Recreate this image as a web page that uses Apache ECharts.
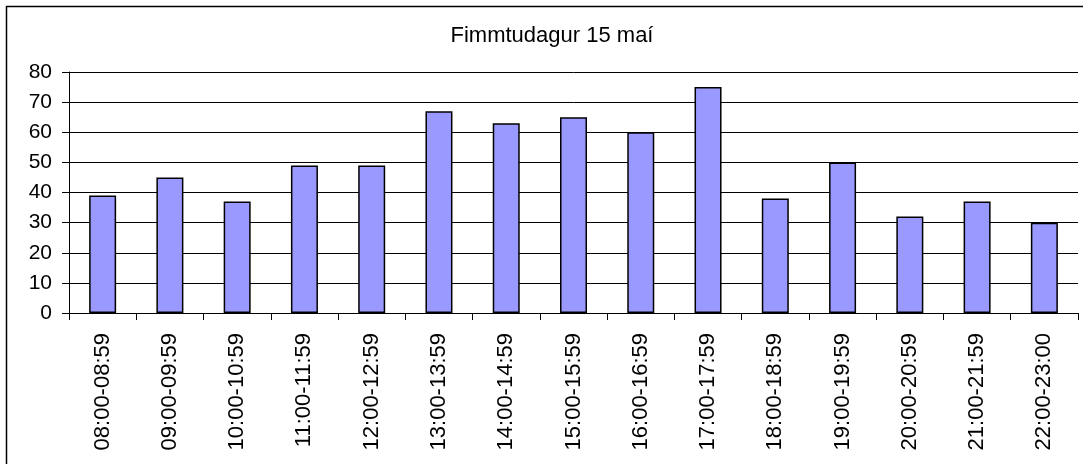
<!DOCTYPE html>
<html>
<head>
<meta charset="utf-8">
<script src="https://cdn.jsdelivr.net/npm/echarts@6/dist/echarts.min.js"></script>
<style>
html,body{margin:0;padding:0;background:#fff;}
#c{width:1088px;height:464px;}
</style>
</head>
<body>
<div id="c"></div>
<script>
const titleText = 'Fimmtudagur 15 maí';
const categories = ['08:00-08:59','09:00-09:59','10:00-10:59','11:00-11:59','12:00-12:59','13:00-13:59','14:00-14:59','15:00-15:59','16:00-16:59','17:00-17:59','18:00-18:59','19:00-19:59','20:00-20:59','21:00-21:59','22:00-23:00'];
const values = [39, 45, 37, 49, 49, 67, 63, 65, 60, 75, 38, 50, 32, 37, 30];
const yTicks = [0, 10, 20, 30, 40, 50, 60, 70, 80];

const FONT = '"Liberation Sans", Arial, sans-serif';
const chart = echarts.init(document.getElementById('c'), null, {renderer: 'canvas'});
chart.setOption({
  animation: false,
  backgroundColor: '#fff',
  title: {
    text: titleText,
    left: 547, textAlign: 'center', top: 20,
    textStyle: {fontFamily: FONT, fontSize: 22, fontWeight: 'normal', color: '#000'}
  },
  grid: {left: 69, right: 10, top: 72, bottom: 151, containLabel: false},
  xAxis: {
    type: 'category',
    data: categories,
    boundaryGap: true,
    axisLine: {show: true, lineStyle: {color: '#000', width: 1}},
    axisTick: {show: true, alignWithLabel: false, length: 7, lineStyle: {color: '#000'}},
    axisLabel: {rotate: 90, margin: 20, interval: 0, fontFamily: FONT, fontSize: 22, color: '#000'},
    splitLine: {show: false}
  },
  yAxis: {
    type: 'value',
    min: yTicks[0], max: yTicks[yTicks.length - 1], interval: 10,
    axisLine: {show: true, lineStyle: {color: '#000', width: 1}},
    axisTick: {show: true, length: 7, lineStyle: {color: '#000'}},
    axisLabel: {margin: 17, fontFamily: FONT, fontSize: 21, color: '#000'},
    splitLine: {show: true, lineStyle: {color: '#000', width: 1}}
  },
  series: [{
    type: 'bar',
    data: values,
    barWidth: 27,
    itemStyle: {color: '#9999FF', borderColor: '#000', borderWidth: 1.5}
  }],
  graphic: [
    {type: 'line', shape: {x1: 6, y1: 6.5, x2: 1083, y2: 6.5}, style: {stroke: '#000', lineWidth: 1.5}, silent: true},
    {type: 'line', shape: {x1: 6.5, y1: 6, x2: 6.5, y2: 464}, style: {stroke: '#000', lineWidth: 1.5}, silent: true}
  ]
});
</script>
</body>
</html>
